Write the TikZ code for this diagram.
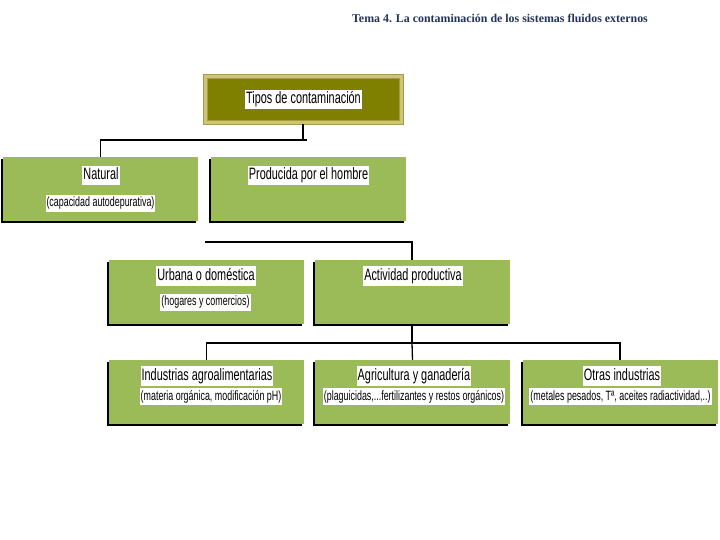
\documentclass[tikz,border=0pt]{standalone}
\usepackage{fontspec}
\usetikzlibrary{shadows}
\newfontfamily\nar{Liberation Sans}[FakeStretch=0.66]
\newfontfamily\hdr{Liberation Serif}
\definecolor{gfill}{RGB}{155,187,89}
\definecolor{olive}{RGB}{128,128,0}
\definecolor{tanframe}{RGB}{206,196,120}
\definecolor{tanedge}{RGB}{165,155,75}
\definecolor{navy}{RGB}{33,52,92}
\tikzset{
  gbox/.style={fill=gfill, draw=none, minimum width=195pt, minimum height=64pt, inner sep=0pt,
    drop shadow={shadow xshift=-2pt, shadow yshift=-2pt, fill=black, opacity=1}},
  mainlbl/.style={fill=white, inner xsep=1pt, inner ysep=2pt, text height=12pt, text depth=3.5pt,
    font=\nar\fontsize{16.5}{18}\selectfont},
  sublbl/.style={fill=white, inner xsep=1pt, inner ysep=2pt, text height=10pt, text depth=3pt,
    font=\nar\fontsize{13.5}{15}\selectfont},
  conn/.style={draw=black, line width=1.3pt}
}
\begin{document}
\begin{tikzpicture}[x=1pt, y=-1pt]
\useasboundingbox (0,0) rectangle (720,540);
\fill[white] (0,0) rectangle (720,540);
% header
\node[font=\hdr\bfseries\fontsize{11.9}{13}\selectfont, text=navy, inner sep=0pt] (hdr) at (500,18)
  {Tema 4. La contaminación de los sistemas fluidos externos};
% top box
\node[fill=tanframe, draw=tanedge, line width=0.6pt, minimum width=200pt, minimum height=50pt, inner sep=0pt] (top) at (303,99) {};
\node[fill=olive, draw=tanedge, line width=0.4pt, minimum width=192pt, minimum height=42pt, inner sep=0pt] (topin) at (303,99) {};
\node[mainlbl] (toplbl) at (303.5,99.5) {Tipos de contaminación};
% level 1
\node[gbox] (nat) at (100.5,189) {};
\node[mainlbl] (natl) at (101,175.5) {Natural};
\node[sublbl] (nats) at (100.5,203.5) {(capacidad autodepurativa)};
\node[gbox] (prod) at (308,189) {};
\node[mainlbl] (prodl) at (308.5,175.5) {Producida por el hombre};
% level 2
\node[gbox] (urb) at (206.5,292) {};
\node[mainlbl] (urbl) at (206,276) {Urbana o doméstica};
\node[sublbl] (urbs) at (205.5,302) {(hogares y comercios)};
\node[gbox] (act) at (412,292) {};
\node[mainlbl] (actl) at (413,276) {Actividad productiva};
% level 3
\node[gbox] (ind) at (206.5,392) {};
\node[mainlbl] (indl) at (207,376) {Industrias agroalimentarias};
\node[sublbl] (inds) at (211,396.5) {(materia orgánica, modificación pH)};
\node[gbox] (agr) at (412.5,392) {};
\node[mainlbl] (agrl) at (414,376) {Agricultura y ganadería};
\node[sublbl] (agrs) at (414,396.5) {(plaguicidas,...fertilizantes y restos orgánicos)};
\node[gbox] (otr) at (620,392) {};
\node[mainlbl] (otrl) at (622,376) {Otras industrias};
\node[sublbl] (otrs) at (620.5,396.5) {(metales pesados, Tª, aceites radiactividad,..)};
% connectors
\coordinate (j1) at (303,140);
\draw[conn] (top.south) -- (j1) -| (nat.north);
\draw[conn] (j1) -- ++(4,0);
\coordinate (c2) at (205,242);
\draw[conn] (c2) -| (act.north);
\coordinate (j3) at (412,343);
\draw[conn] (act.south) -- (j3);
\draw[conn] (j3) -| (ind.north);
\draw[conn] (j3) -- (agr.north);
\draw[conn] (j3) -| (otr.north);
\end{tikzpicture}
\end{document}
